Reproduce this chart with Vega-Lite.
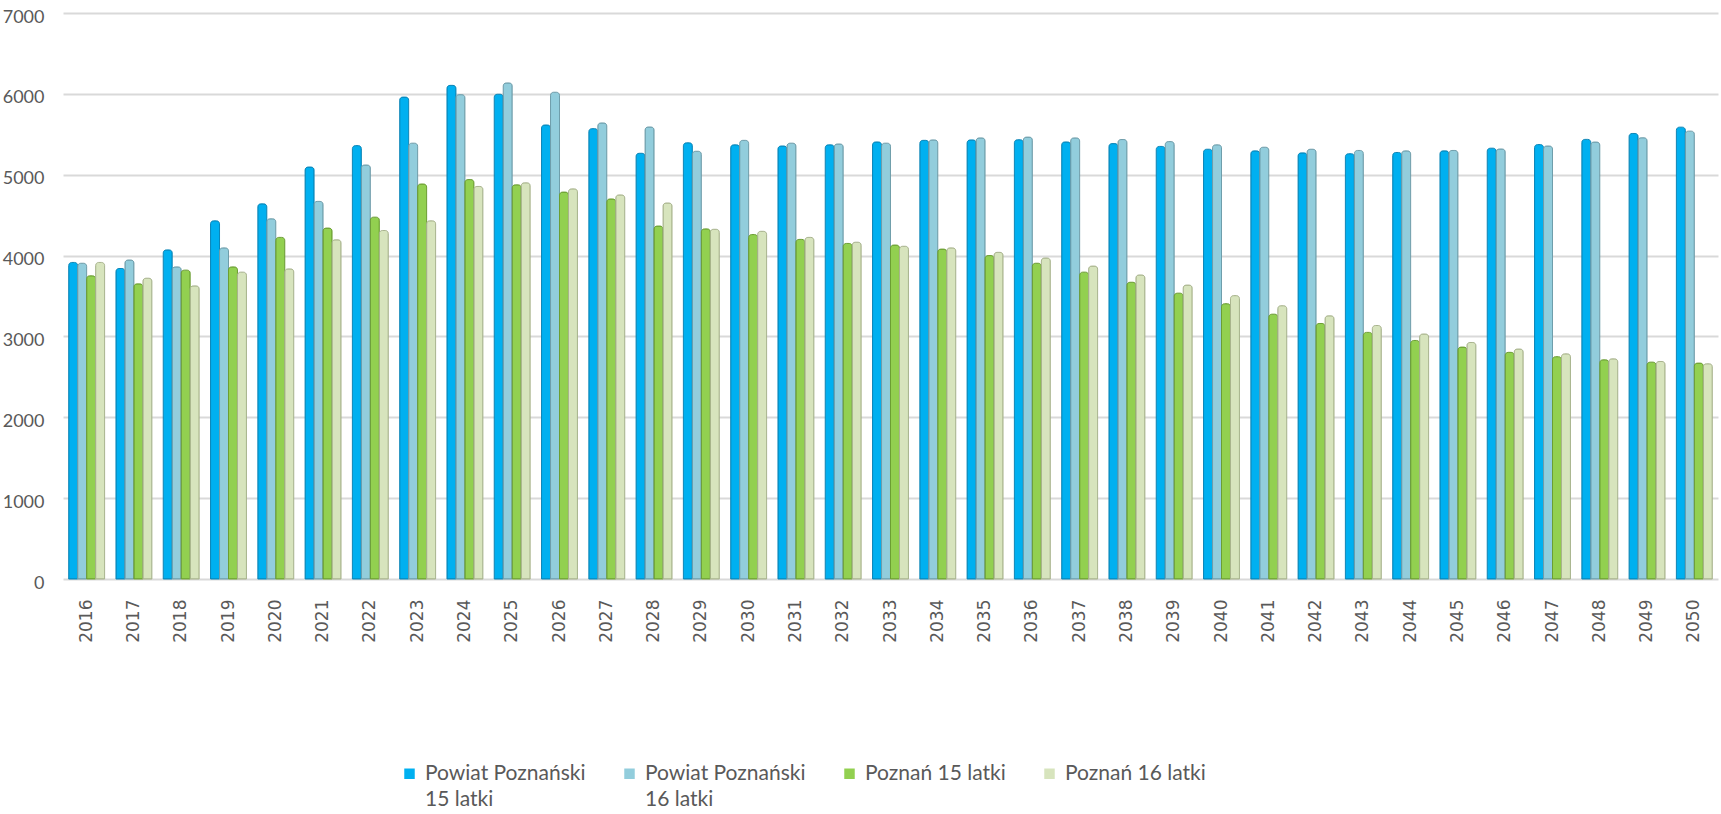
{
  "$schema": "https://vega.github.io/schema/vega-lite/v6.json",
  "width": 1655,
  "height": 566,
  "autosize": {"type": "none"},
  "padding": {"left": 63, "top": 13, "right": 3, "bottom": 235},
  "background": "white",
  "config": {"view": {"stroke": null}, "font": "Lato", "style": {"guide-label": {"lineHeight": 26}}},
  "data": {"values": [
    {"year": "2016", "P15": 3915, "P16": 3905, "M15": 3750, "M16": 3915},
    {"year": "2017", "P15": 3840, "P16": 3945, "M15": 3650, "M16": 3720},
    {"year": "2018", "P15": 4070, "P16": 3860, "M15": 3820, "M16": 3625},
    {"year": "2019", "P15": 4430, "P16": 4095, "M15": 3860, "M16": 3795},
    {"year": "2020", "P15": 4640, "P16": 4455, "M15": 4225, "M16": 3835},
    {"year": "2021", "P15": 5095, "P16": 4670, "M15": 4340, "M16": 4195},
    {"year": "2022", "P15": 5360, "P16": 5120, "M15": 4475, "M16": 4310},
    {"year": "2023", "P15": 5960, "P16": 5390, "M15": 4885, "M16": 4430},
    {"year": "2024", "P15": 6105, "P16": 5990, "M15": 4940, "M16": 4855},
    {"year": "2025", "P15": 5995, "P16": 6135, "M15": 4875, "M16": 4900},
    {"year": "2026", "P15": 5615, "P16": 6020, "M15": 4785, "M16": 4825},
    {"year": "2027", "P15": 5570, "P16": 5640, "M15": 4700, "M16": 4750},
    {"year": "2028", "P15": 5265, "P16": 5590, "M15": 4365, "M16": 4650},
    {"year": "2029", "P15": 5395, "P16": 5290, "M15": 4330, "M16": 4325},
    {"year": "2030", "P15": 5370, "P16": 5425, "M15": 4260, "M16": 4300},
    {"year": "2031", "P15": 5355, "P16": 5390, "M15": 4200, "M16": 4225},
    {"year": "2032", "P15": 5370, "P16": 5380, "M15": 4150, "M16": 4165},
    {"year": "2033", "P15": 5405, "P16": 5390, "M15": 4130, "M16": 4115},
    {"year": "2034", "P15": 5425, "P16": 5430, "M15": 4080, "M16": 4095},
    {"year": "2035", "P15": 5430, "P16": 5455, "M15": 4000, "M16": 4040},
    {"year": "2036", "P15": 5433, "P16": 5465, "M15": 3905, "M16": 3970},
    {"year": "2037", "P15": 5405, "P16": 5455, "M15": 3795, "M16": 3870},
    {"year": "2038", "P15": 5385, "P16": 5435, "M15": 3670, "M16": 3760},
    {"year": "2039", "P15": 5350, "P16": 5410, "M15": 3535, "M16": 3635},
    {"year": "2040", "P15": 5315, "P16": 5370, "M15": 3405, "M16": 3505},
    {"year": "2041", "P15": 5295, "P16": 5340, "M15": 3275, "M16": 3380},
    {"year": "2042", "P15": 5270, "P16": 5315, "M15": 3160, "M16": 3255},
    {"year": "2043", "P15": 5260, "P16": 5300, "M15": 3050, "M16": 3135},
    {"year": "2044", "P15": 5275, "P16": 5295, "M15": 2950, "M16": 3030},
    {"year": "2045", "P15": 5295, "P16": 5300, "M15": 2868, "M16": 2925},
    {"year": "2046", "P15": 5328, "P16": 5318, "M15": 2803, "M16": 2844},
    {"year": "2047", "P15": 5373, "P16": 5355, "M15": 2750, "M16": 2785},
    {"year": "2048", "P15": 5437, "P16": 5404, "M15": 2711, "M16": 2723},
    {"year": "2049", "P15": 5510, "P16": 5457, "M15": 2682, "M16": 2690},
    {"year": "2050", "P15": 5588, "P16": 5539, "M15": 2670, "M16": 2662}
  ]},
  "transform": [{"fold": ["P15", "P16", "M15", "M16"], "as": ["series", "value"]}],
  "mark": {"type": "bar", "strokeWidth": 1, "cornerRadiusTopLeft": 3, "cornerRadiusTopRight": 3},
  "encoding": {
    "x": {
      "field": "year", "type": "nominal",
      "scale": {"paddingInner": 0.24, "paddingOuter": 0.12},
      "axis": {"title": null, "labelAngle": -90, "labelFont": "DejaVu Sans", "labelFontSize": 17, "labelColor": "#595959", "ticks": false, "domain": false, "labelPadding": 20}
    },
    "xOffset": {"field": "series", "type": "nominal", "sort": ["P15", "P16", "M15", "M16"]},
    "y": {
      "field": "value", "type": "quantitative",
      "scale": {"domain": [0, 7000]},
      "axis": {"title": null, "format": "d", "values": [0, 1000, 2000, 3000, 4000, 5000, 6000, 7000], "grid": true, "gridColor": "#d9d9d9", "gridWidth": 2, "domain": false, "ticks": false, "labelFontSize": 18, "labelColor": "#595959", "labelPadding": 19, "labelFont": "Lato", "labelOffset": 4}
    },
    "color": {
      "field": "series", "type": "nominal",
      "scale": {"domain": ["P15", "P16", "M15", "M16"], "range": ["#00b0f0", "#92cddc", "#92d050", "#d7e4bd"]},
      "legend": {
        "orient": "none", "legendX": 336, "legendY": 750, "direction": "horizontal", "columns": 4,
        "title": null, "symbolType": "square", "symbolSize": 110, "symbolStrokeWidth": 0,
        "labelFontSize": 21, "labelColor": "#595959", "labelFont": "Lato", "labelLimit": 300,
        "columnPadding": 33, "labelOffset": 5,
        "labelExpr": "datum.label == 'P15' ? ['Powiat Poznański', '15 latki'] : datum.label == 'P16' ? ['Powiat Poznański', '16 latki'] : datum.label == 'M15' ? ['Poznań 15 latki', ' '] : ['Poznań 16 latki', ' ']"
      }
    },
    "stroke": {
      "field": "series", "type": "nominal",
      "scale": {"domain": ["P15", "P16", "M15", "M16"], "range": ["#0a86b8", "#6f9eab", "#6c9e33", "#a9b48e"]},
      "legend": null
    }
  }
}
